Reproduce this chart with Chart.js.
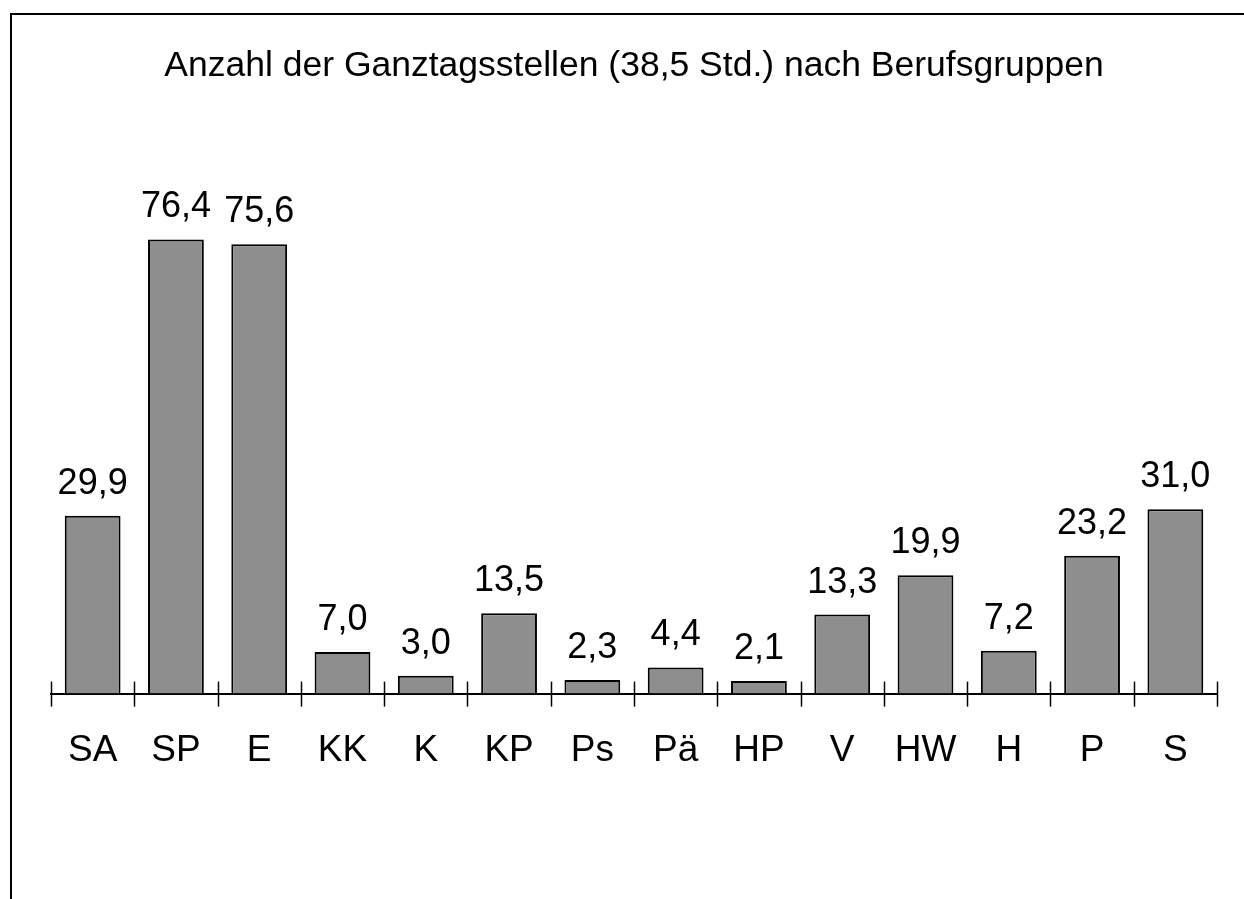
<!DOCTYPE html>
<html lang="de">
<head>
    <meta charset="UTF-8">
    <title>Ganztagsstellen nach Berufsgruppen</title>
    <script src="https://cdn.jsdelivr.net/npm/chart.js"></script>
    <style>
        body { margin: 0; background: #fff; }
        canvas { display: block; }
    </style>
</head>
<body>
    <canvas id="chart" width="1244" height="899"></canvas>

    <script>
        const title = 'Anzahl der Ganztagsstellen (38,5 Std.) nach Berufsgruppen';
        const groups = ['SA', 'SP', 'E', 'KK', 'K', 'KP', 'Ps', 'Pä', 'HP', 'V', 'HW', 'H', 'P', 'S'];
        const stellen = [29.9, 76.4, 75.6, 7.0, 3.0, 13.5, 2.3, 4.4, 2.1, 13.3, 19.9, 7.2, 23.2, 31.0];

        Chart.defaults.font.family = '"Liberation Sans", Arial, sans-serif';
        Chart.defaults.color = '#000';

        // frame, tick marks across the axis and value labels above the bars
        const extras = {
            id: 'extras',
            afterDraw(chart) {
                const ctx = chart.ctx;
                const x = chart.scales.x;
                ctx.save();
                ctx.strokeStyle = '#000';
                ctx.lineWidth = 2;
                ctx.beginPath();
                ctx.moveTo(11, chart.height);
                ctx.lineTo(11, 14);
                ctx.lineTo(chart.width, 14);
                ctx.stroke();

                ctx.lineWidth = 1.5;
                const step = x.width / groups.length;
                for (let i = 0; i <= groups.length; i++) {
                    const px = Math.round(x.left + i * step) + 0.5;
                    ctx.beginPath();
                    ctx.moveTo(px, x.top - 12);
                    ctx.lineTo(px, x.top + 13);
                    ctx.stroke();
                }

                ctx.fillStyle = '#000';
                ctx.font = '36px "Liberation Sans", Arial, sans-serif';
                ctx.textAlign = 'center';
                ctx.textBaseline = 'alphabetic';
                chart.getDatasetMeta(0).data.forEach((bar, i) => {
                    ctx.fillText(stellen[i].toFixed(1).replace('.', ','), bar.x, bar.y - 22);
                });
                ctx.restore();
            }
        };

        new Chart(document.getElementById('chart'), {
            type: 'bar',
            data: {
                labels: groups,
                datasets: [{
                    data: stellen,
                    backgroundColor: '#8e8e8e',
                    borderColor: '#000',
                    borderWidth: 2,
                    categoryPercentage: 1,
                    barPercentage: 0.67
                }]
            },
            options: {
                responsive: false,
                animation: false,
                layout: { padding: { left: 51, right: 27, top: 0, bottom: 99 } },
                plugins: {
                    legend: { display: false },
                    tooltip: { enabled: false },
                    title: {
                        display: true,
                        text: title,
                        color: '#000',
                        font: { size: 35.5, weight: 'normal' },
                        padding: { top: 45, bottom: 71 }
                    }
                },
                scales: {
                    x: {
                        grid: { display: false },
                        border: { display: true, color: '#000', width: 2 },
                        ticks: { font: { size: 37 }, padding: 27, color: '#000' }
                    },
                    y: {
                        display: false,
                        min: 0,
                        max: 90
                    }
                }
            },
            plugins: [extras]
        });
    </script>
</body>
</html>
